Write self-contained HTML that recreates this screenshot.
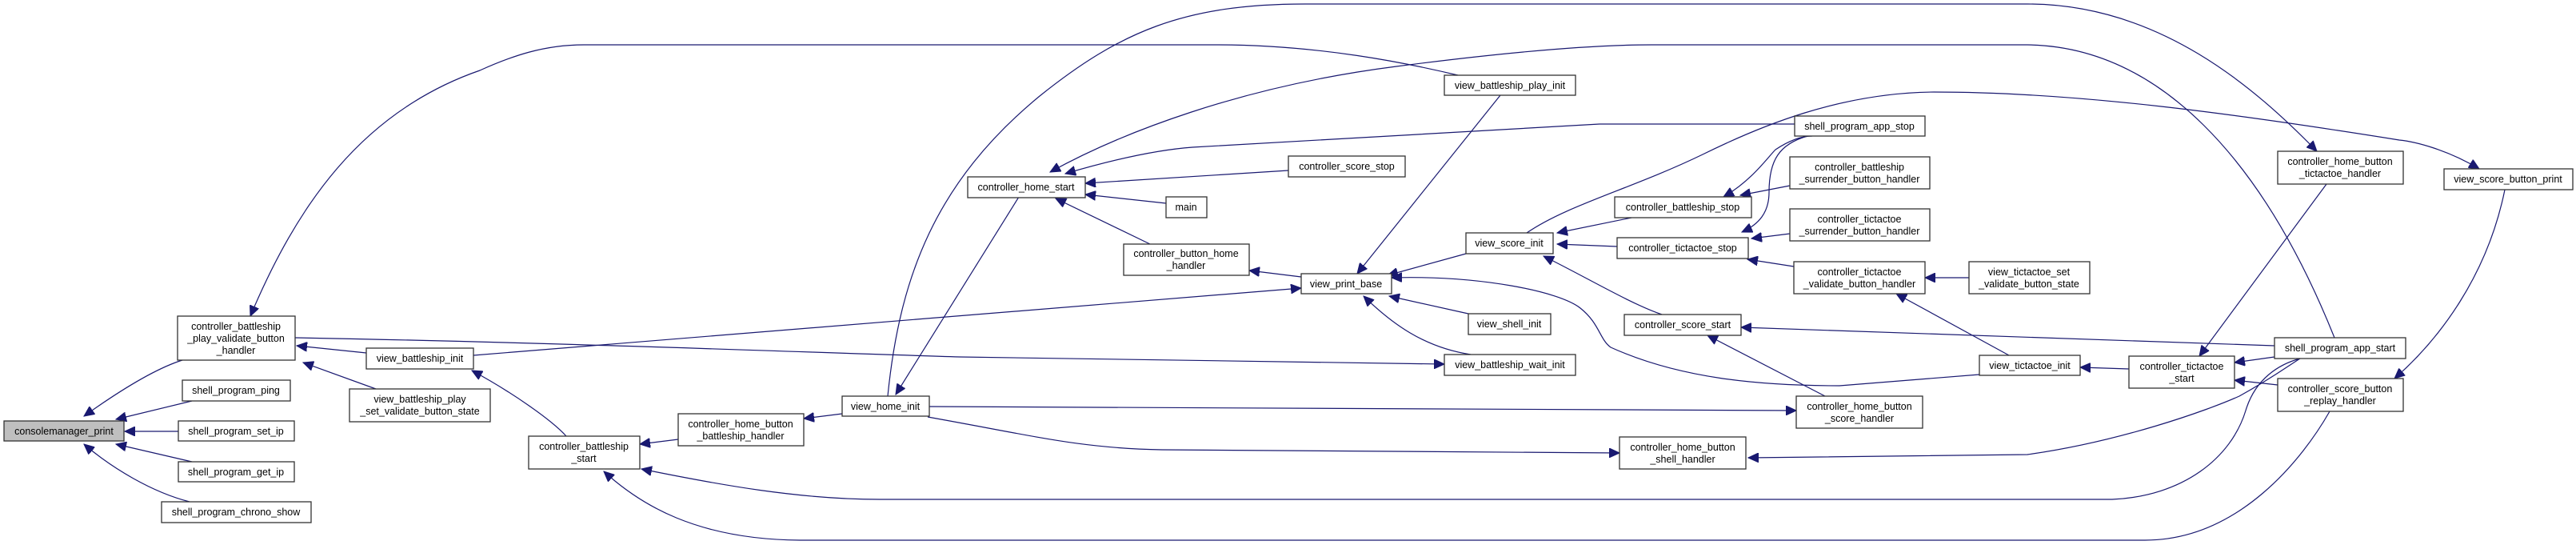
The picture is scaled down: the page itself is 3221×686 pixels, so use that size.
<!DOCTYPE html>
<html><head><meta charset="utf-8"><style>
html,body{margin:0;padding:0;background:#fff;}
svg{display:block;}
text{font-family:"Liberation Sans",Arial,sans-serif;font-size:12.5px;fill:#000;}
</style></head><body>
<svg width="3221" height="686" viewBox="0 0 3221 686" xmlns="http://www.w3.org/2000/svg">
<defs>
<marker id="a" markerUnits="userSpaceOnUse" markerWidth="14" markerHeight="12" refX="13" refY="6" orient="auto-start-reverse">
<path d="M0,0 L13,6 L0,12 Z" fill="#191970" stroke="#191970"/>
</marker>
</defs>
<g fill="none" stroke="#191970" stroke-width="1.2" marker-start="url(#a)">
<path d="M145 524 L240 501"/>
<path d="M156 539 L223 539"/>
<path d="M145 555 L240 577"/>
<path d="M105 555 C140 585 190 615 237 627"/>
<path d="M105 520 C140 495 190 462 228 450"/>
<path d="M313 395 C370 260 450 140 600 88 C640 70 680 56 730 56 L1520 56 C1650 56 1760 79 1823 94"/>
<path d="M1806 455 C1500 452 1300 449 1200 446 C1000 440 700 428 369 422"/>
<path d="M371 432 L458 441"/>
<path d="M379 453 L470 486"/>
<path d="M1627 360 L592 444"/>
<path d="M590 463 C640 490 690 525 708 545"/>
<path d="M800 555 L848 549"/>
<path d="M1005 523 L1053 517"/>
<path d="M1120 493 L1274 246"/>
<path d="M2897 189 C2820 110 2700 5 2535 5 L1632 5 C1480 5 1400 40 1300 120 C1170 227 1125 345 1110 495"/>
<path d="M2246 513 L1162 508"/>
<path d="M2025 566 L1453 562 C1350 560 1300 546 1160 521"/>
<path d="M802 586 C900 606 1000 624 1100 624 L2641 624 C2730 620 2790 572 2808 513 C2820 473 2850 455 2876 448"/>
<path d="M755 589 C800 630 870 674 1000 675 L2682 675 C2800 675 2880 572 2913 514"/>
<path d="M1313 215 C1400 167 1550 108 1746 83 C1900 63 2000 56 2065 56 L2535 56 C2700 58 2830 200 2919 422"/>
<path d="M1332 217 C1400 197 1450 187 1491 184 L2000 155 L2244 155"/>
<path d="M1357 229 L1611 213"/>
<path d="M1357 243 L1458 254"/>
<path d="M1320 248 L1438 305"/>
<path d="M1562 338 L1627 346"/>
<path d="M1697 342 L1876 119"/>
<path d="M1735 344 L1833 317"/>
<path d="M1737 370 L1836 392"/>
<path d="M1705 370 C1740 404 1780 434 1839 443"/>
<path d="M1740 347 C1850 344 1950 364 1976 385 C2000 404 2000 424 2014 434 C2100 473 2200 482 2300 482 L2475 468"/>
<path d="M1947 291 L2040 272"/>
<path d="M1947 305 L2022 308"/>
<path d="M1930 320 C1990 350 2040 380 2078 393"/>
<path d="M3100 211 C3060 187 3020 177 3000 175 C2800 143 2600 115 2418 115 C2300 116 2200 158 2129 193 C2040 236 1960 256 1909 291"/>
<path d="M2155 246 C2190 226 2210 197 2220 187 C2235 177 2250 170 2266 170"/>
<path d="M2176 244 L2238 232"/>
<path d="M2178 290 C2200 280 2212 265 2212 240 C2212 200 2225 180 2260 170"/>
<path d="M2190 298 L2238 292"/>
<path d="M2185 324 L2243 333"/>
<path d="M2177 409 L2844 432"/>
<path d="M2135 419 L2282 495"/>
<path d="M2186 572 L2535 568 C2650 552 2760 513 2800 495 C2840 473 2860 458 2876 448"/>
<path d="M2407 347 L2462 347"/>
<path d="M2371 367 L2512 444"/>
<path d="M2601 459 L2662 461"/>
<path d="M2750 445 L2909 230"/>
<path d="M2794 453 L2844 446"/>
<path d="M2794 475 L2848 481"/>
<path d="M2994 473 C3050 424 3110 345 3132 237"/>
</g>
<g stroke="#333" stroke-width="1.3" fill="#fff">
<rect x="5" y="526" width="150" height="25" fill="#bfbfbf"/>
<rect x="222" y="395" width="147" height="55"/>
<rect x="228" y="475" width="135" height="26"/>
<rect x="223" y="526" width="145" height="25"/>
<rect x="223" y="577" width="145" height="25"/>
<rect x="202" y="627" width="187" height="26"/>
<rect x="458" y="435" width="134" height="26"/>
<rect x="437" y="486" width="176" height="41"/>
<rect x="661" y="545" width="139" height="41"/>
<rect x="848" y="517" width="157" height="40"/>
<rect x="1053" y="495" width="109" height="25"/>
<rect x="1210" y="221" width="147" height="26"/>
<rect x="1806" y="94" width="164" height="25"/>
<rect x="1611" y="195" width="146" height="26"/>
<rect x="1458" y="246" width="51" height="26"/>
<rect x="1405" y="305" width="157" height="39"/>
<rect x="1627" y="342" width="113" height="25"/>
<rect x="1833" y="291" width="109" height="26"/>
<rect x="1836" y="392" width="103" height="26"/>
<rect x="1806" y="443" width="164" height="26"/>
<rect x="2019" y="246" width="171" height="26"/>
<rect x="2022" y="297" width="164" height="26"/>
<rect x="2031" y="393" width="146" height="26"/>
<rect x="2025" y="546" width="158" height="40"/>
<rect x="2244" y="145" width="163" height="25"/>
<rect x="2238" y="196" width="175" height="40"/>
<rect x="2238" y="261" width="175" height="40"/>
<rect x="2243" y="327" width="164" height="40"/>
<rect x="2246" y="495" width="158" height="40"/>
<rect x="2462" y="327" width="151" height="40"/>
<rect x="2475" y="444" width="126" height="25"/>
<rect x="2662" y="445" width="132" height="40"/>
<rect x="2848" y="189" width="157" height="41"/>
<rect x="3056" y="211" width="161" height="26"/>
<rect x="2844" y="422" width="164" height="26"/>
<rect x="2848" y="473" width="157" height="41"/>
</g>
<g text-anchor="middle">
<text x="80" y="543">consolemanager_print</text>
<text x="295" y="412">controller_battleship</text>
<text x="295" y="427">_play_validate_button</text>
<text x="295" y="442">_handler</text>
<text x="295" y="492">shell_program_ping</text>
<text x="295" y="543">shell_program_set_ip</text>
<text x="295" y="594">shell_program_get_ip</text>
<text x="295" y="644">shell_program_chrono_show</text>
<text x="525" y="452">view_battleship_init</text>
<text x="525" y="503">view_battleship_play</text>
<text x="525" y="518">_set_validate_button_state</text>
<text x="730" y="562">controller_battleship</text>
<text x="730" y="577">_start</text>
<text x="926" y="534">controller_home_button</text>
<text x="926" y="549">_battleship_handler</text>
<text x="1107" y="512">view_home_init</text>
<text x="1283" y="238">controller_home_start</text>
<text x="1888" y="111">view_battleship_play_init</text>
<text x="1684" y="212">controller_score_stop</text>
<text x="1483" y="263">main</text>
<text x="1483" y="321">controller_button_home</text>
<text x="1483" y="336">_handler</text>
<text x="1683" y="359">view_print_base</text>
<text x="1887" y="308">view_score_init</text>
<text x="1887" y="409">view_shell_init</text>
<text x="1888" y="460">view_battleship_wait_init</text>
<text x="2104" y="263">controller_battleship_stop</text>
<text x="2104" y="314">controller_tictactoe_stop</text>
<text x="2104" y="410">controller_score_start</text>
<text x="2104" y="563">controller_home_button</text>
<text x="2104" y="578">_shell_handler</text>
<text x="2325" y="162">shell_program_app_stop</text>
<text x="2325" y="213">controller_battleship</text>
<text x="2325" y="228">_surrender_button_handler</text>
<text x="2325" y="278">controller_tictactoe</text>
<text x="2325" y="293">_surrender_button_handler</text>
<text x="2325" y="344">controller_tictactoe</text>
<text x="2325" y="359">_validate_button_handler</text>
<text x="2325" y="512">controller_home_button</text>
<text x="2325" y="527">_score_handler</text>
<text x="2537" y="344">view_tictactoe_set</text>
<text x="2537" y="359">_validate_button_state</text>
<text x="2538" y="461">view_tictactoe_init</text>
<text x="2728" y="462">controller_tictactoe</text>
<text x="2728" y="477">_start</text>
<text x="2926" y="206">controller_home_button</text>
<text x="2926" y="221">_tictactoe_handler</text>
<text x="3136" y="228">view_score_button_print</text>
<text x="2926" y="439">shell_program_app_start</text>
<text x="2926" y="490">controller_score_button</text>
<text x="2926" y="505">_replay_handler</text>
</g>
</svg>
</body></html>
